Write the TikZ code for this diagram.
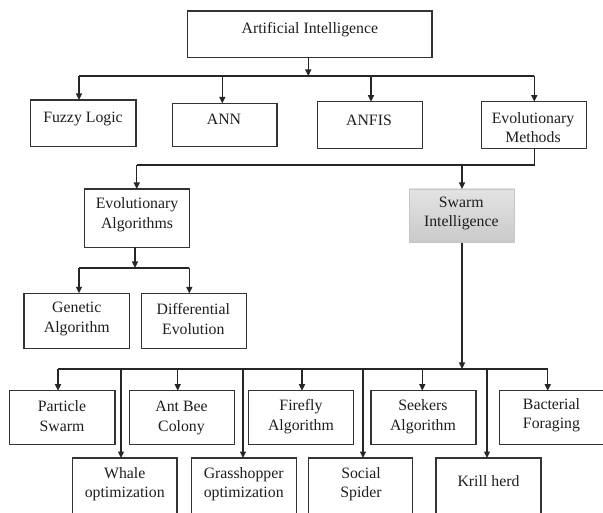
\documentclass[tikz,border=0pt]{standalone}
\usepackage{fontspec}
\setmainfont{Liberation Serif}
\usetikzlibrary{arrows.meta}
\definecolor{linec}{HTML}{262626}
\definecolor{boxc}{HTML}{333333}
\definecolor{txtc}{HTML}{1E1E1E}
\tikzset{
  box/.style={draw=boxc, line width=1.3pt, fill=white, inner sep=0pt, outer sep=0pt},
  swarmbox/.style={draw=gray!45, line width=0.8pt, top color=gray!22, bottom color=gray!42, inner sep=0pt, outer sep=0pt},
  lbl/.style={text=txtc, align=center, inner sep=0pt, font=\fontsize{15.8}{19.5}\selectfont},
  wire/.style={draw=linec, line width=1.3pt},
  arr/.style={wire, -{Triangle[length=6.5pt,width=6pt]}},
}
\begin{document}
\begin{tikzpicture}[x=1pt,y=-1pt]
\useasboundingbox (0,0) rectangle (603,513);
\clip (0,0) rectangle (603,513);
\fill[white] (0,0) rectangle (603,513);
% boxes
\node[box, minimum width=244.3pt, minimum height=46.3pt] (ai) at (309.85,34.15) {};
\node[box, minimum width=105.3pt, minimum height=46.7pt] (fuzzy) at (83.35,123.35) {};
\node[box, minimum width=104.7pt, minimum height=43.4pt] (ann) at (224.65,125) {};
\node[box, minimum width=105.4pt, minimum height=46.6pt] (anfis) at (370,125) {};
\node[box, minimum width=105pt, minimum height=46.6pt] (em) at (533.8,125) {};
\node[box, minimum width=105pt, minimum height=58.3pt] (ea) at (136.8,218.15) {};
\node[swarmbox, minimum width=105pt, minimum height=53.7pt] (swarm) at (461.8,215.85) {};
\node[box, minimum width=105.3pt, minimum height=55pt] (ga) at (76.65,320.8) {};
\node[box, minimum width=105.4pt, minimum height=55pt] (de) at (194,320.8) {};
\node[box, minimum width=105.3pt, minimum height=54pt] (pso) at (62.35,417.7) {};
\node[box, minimum width=105pt, minimum height=54pt] (abc) at (181.8,417.7) {};
\node[box, minimum width=104.6pt, minimum height=54pt] (ffa) at (301,417.7) {};
\node[box, minimum width=105pt, minimum height=54pt] (sa) at (423.5,417.7) {};
\node[box, minimum width=104.3pt, minimum height=54pt] (bfo) at (551.85,417.7) {};
\node[box, minimum width=104.3pt, minimum height=62pt] (woa) at (124.85,489) {};
\node[box, minimum width=104.6pt, minimum height=62pt] (goa) at (244,489) {};
\node[box, minimum width=104.4pt, minimum height=62pt] (ssp) at (360.5,489) {};
\node[box, minimum width=105pt, minimum height=62pt] (kh) at (488.5,489) {};
% labels
\node[lbl] (tai) at (309.9,29.3) {Artificial Intelligence};
\node[lbl] (tfuzzy) at (83,119) {Fuzzy Logic};
\node[lbl] (tann) at (224,119.3) {ANN};
\node[lbl] (tanfis) at (369,120.7) {ANFIS};
\node[lbl] (tem) at (533,127.8) {Evolutionary\\Methods};
\node[lbl] (tea) at (137,214.5) {Evolutionary\\Algorithms};
\node[lbl] (tswarm) at (461.3,213.3) {Swarm\\Intelligence};
\node[lbl] (tga) at (76.8,319) {Genetic\\Algorithm};
\node[lbl] (tde) at (193.3,319) {Differential\\Evolution};
\node[lbl] (tpso) at (62,416.3) {Particle\\Swarm};
\node[lbl] (tabc) at (181.5,418) {Ant Bee\\Colony};
\node[lbl] (tffa) at (301,416.5) {Firefly\\Algorithm};
\node[lbl] (tsa) at (423,416.5) {Seekers\\Algorithm};
\node[lbl] (tbfo) at (551.5,415) {Bacterial\\Foraging};
\node[lbl] (twoa) at (124.7,484) {Whale\\optimization};
\node[lbl] (tgoa) at (243.7,484) {Grasshopper\\optimization};
\node[lbl] (tssp) at (361,484) {Social\\Spider};
\node[lbl] (tkh) at (488.5,481.3) {Krill herd};
% junction coordinates
\coordinate (j0) at (308.3,76);
\coordinate (cf) at (79,76);
\coordinate (cann) at (222.3,76);
\coordinate (canfis) at (371,76);
\coordinate (cem) at (534.3,76);
\coordinate (e1) at (534.3,165);
\coordinate (e2) at (462,165);
\coordinate (e3) at (136.7,165);
\coordinate (k0) at (135,268);
\coordinate (kga) at (79,268);
\coordinate (kde) at (189.3,268);
\coordinate (s0) at (462,369);
\coordinate (spso) at (58,369);
\coordinate (sabc) at (177.7,369);
\coordinate (sffa) at (302,369);
\coordinate (ssa) at (422.3,369);
\coordinate (sbfo) at (547.7,369);
\coordinate (swoa) at (121,369);
\coordinate (sgoa) at (243,369);
\coordinate (sssp) at (363,369);
\coordinate (skh) at (487,369);
% level 1
\draw[arr] (ai.south -| j0) -- (j0);
\draw[wire] (cf) -- (cem);
\draw[arr] (cf) -- (cf |- fuzzy.north);
\draw[arr] (cann) -- (cann |- ann.north);
\draw[arr] (canfis) -- (canfis |- anfis.north);
\draw[arr] (cem) -- (cem |- em.north);
% level 2
\draw[wire] (em.south -| e1) -- (e1) -- (e3);
\draw[arr] (e3) -- (e3 |- ea.north);
\draw[arr] (e2) -- (e2 |- swarm.north);
% evolutionary algorithms
\draw[arr] (ea.south -| k0) -- (k0);
\draw[wire] (kga) -- (kde);
\draw[arr] (kga) -- (kga |- ga.north);
\draw[arr] (kde) -- (kde |- de.north);
% swarm
\draw[arr] (swarm.south -| s0) -- (s0);
\draw[wire] (spso) -- (sbfo);
\draw[arr] (spso) -- (spso |- pso.north);
\draw[arr] (sabc) -- (sabc |- abc.north);
\draw[arr] (sffa) -- (sffa |- ffa.north);
\draw[arr] (ssa) -- (ssa |- sa.north);
\draw[arr] (sbfo) -- (sbfo |- bfo.north);
\draw[arr] (swoa) -- (swoa |- woa.north);
\draw[arr] (sgoa) -- (sgoa |- goa.north);
\draw[arr] (sssp) -- (sssp |- ssp.north);
\draw[arr] (skh) -- (skh |- kh.north);
\end{tikzpicture}
\end{document}
